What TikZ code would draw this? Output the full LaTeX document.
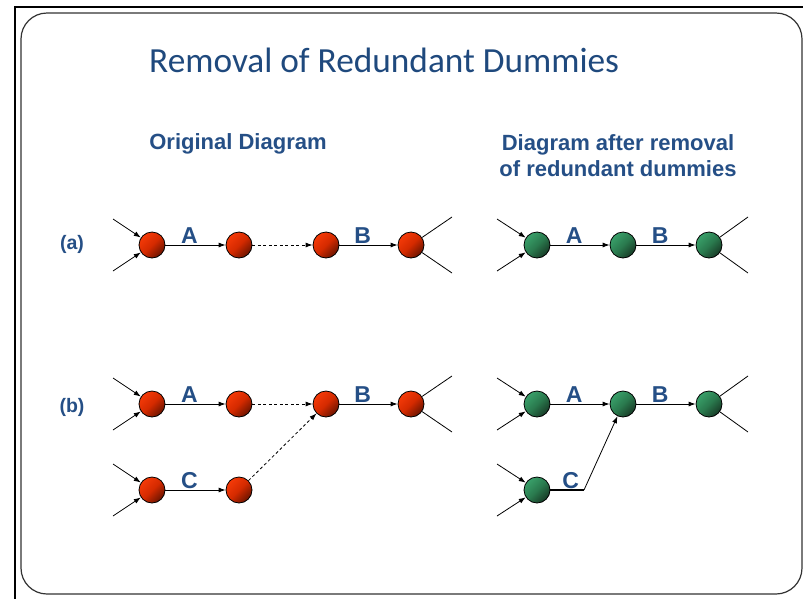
\documentclass[tikz,border=0pt]{standalone}
\usepackage{fontspec}
\setmainfont{Liberation Sans}
\newfontfamily\titlefont{Carlito}
\usetikzlibrary{arrows.meta}
\definecolor{tblue}{HTML}{1F497D}
\definecolor{hblue}{HTML}{254F86}
\definecolor{rlight}{HTML}{F53A08}
\definecolor{rmid}{HTML}{D42A00}
\definecolor{rdark}{HTML}{6A1400}
\definecolor{glight}{HTML}{39A06A}
\definecolor{gmid}{HTML}{2A7A4E}
\definecolor{gdark}{HTML}{173A26}
\begin{document}
\begin{tikzpicture}[x=1pt,y=-1pt,
  ev/.style={circle,draw=black,line width=0.8pt,minimum size=26pt,inner sep=0pt},
  redev/.style={ev,top color=rlight,bottom color=rdark,middle color=rmid,shading angle=45},
  greenev/.style={ev,top color=glight,bottom color=gdark,middle color=gmid,shading angle=45},
  act/.style={-{Latex[length=7pt,width=5pt]},line width=0.8pt},
  dum/.style={act,dashed,dash pattern=on 3pt off 2.5pt},
  free/.style={line width=0.8pt},
  lbl/.style={font=\bfseries\fontsize{23}{26}\selectfont,text=hblue,inner sep=1pt,above=0pt,pos=0.4},
  side/.style={font=\bfseries\fontsize{19.5}{22}\selectfont,text=hblue},
  head/.style={font=\bfseries\fontsize{22}{26}\selectfont,text=hblue,align=center}]
\useasboundingbox (0,0) rectangle (803,598);
\draw[line width=2.6pt] (15,7) rectangle (815,610);
\draw[line width=1.2pt,draw=black!80,rounded corners=26pt] (21,13) rectangle (802,594);
\node[font=\titlefont\fontsize{35.3}{40}\selectfont,text=tblue,anchor=base west,inner sep=0pt] (title) at (149,72) {Removal of Redundant Dummies};
\node[head] (h1) at (238,144) {Original Diagram};
\node[head] (h2) at (618,156) {Diagram after removal\\of redundant dummies};
\node[side] (la) at (72,244) {(a)};
\node[side] (lb) at (72,407) {(b)};
% row (a) red
\node[redev] (a1) at (152,245) {};
\node[redev] (a2) at (239,245) {};
\node[redev] (a3) at (326,245) {};
\node[redev] (a4) at (411,245) {};
\coordinate (ai1) at (113,219); \coordinate (ai2) at (113,271);
\coordinate (ao1) at (452,217); \coordinate (ao2) at (452,273);
\draw[act] (ai1) -- (a1); \draw[act] (ai2) -- (a1);
\draw[act] (a1) -- node[lbl] {A} (a2);
\draw[dum] (a2) -- (a3);
\draw[act] (a3) -- node[lbl] {B} (a4);
\draw[free] (a4) -- (ao1); \draw[free] (a4) -- (ao2);
% row (a) green
\node[greenev] (g1) at (537,245) {};
\node[greenev] (g2) at (623,245) {};
\node[greenev] (g3) at (709,245) {};
\coordinate (gi1) at (497,219); \coordinate (gi2) at (497,271);
\coordinate (go1) at (748,217); \coordinate (go2) at (748,273);
\draw[act] (gi1) -- (g1); \draw[act] (gi2) -- (g1);
\draw[act] (g1) -- node[lbl] {A} (g2);
\draw[act] (g2) -- node[lbl] {B} (g3);
\draw[free] (g3) -- (go1); \draw[free] (g3) -- (go2);
% row (b) red
\node[redev] (b1) at (152,404) {};
\node[redev] (b2) at (239,404) {};
\node[redev] (b3) at (326,404) {};
\node[redev] (b4) at (411,404) {};
\node[redev] (c1) at (152,490) {};
\node[redev] (c2) at (239,490) {};
\coordinate (bi1) at (113,378); \coordinate (bi2) at (113,430);
\coordinate (bo1) at (452,376); \coordinate (bo2) at (452,432);
\coordinate (ci1) at (113,464); \coordinate (ci2) at (113,516);
\draw[act] (bi1) -- (b1); \draw[act] (bi2) -- (b1);
\draw[act] (ci1) -- (c1); \draw[act] (ci2) -- (c1);
\draw[act] (b1) -- node[lbl] {A} (b2);
\draw[dum] (b2) -- (b3);
\draw[act] (b3) -- node[lbl] {B} (b4);
\draw[free] (b4) -- (bo1); \draw[free] (b4) -- (bo2);
\draw[act] (c1) -- node[lbl] {C} (c2);
\draw[dum] (c2) -- (b3);
% row (b) green
\node[greenev] (e1) at (537,404) {};
\node[greenev] (e2) at (623,404) {};
\node[greenev] (e3) at (709,404) {};
\node[greenev] (f1) at (537,490) {};
\coordinate (ei1) at (497,378); \coordinate (ei2) at (497,430);
\coordinate (eo1) at (748,376); \coordinate (eo2) at (748,432);
\coordinate (fi1) at (497,464); \coordinate (fi2) at (497,516);
\coordinate (fk) at (584,490);
\draw[act] (ei1) -- (e1); \draw[act] (ei2) -- (e1);
\draw[act] (fi1) -- (f1); \draw[act] (fi2) -- (f1);
\draw[act] (e1) -- node[lbl] {A} (e2);
\draw[act] (e2) -- node[lbl] {B} (e3);
\draw[free] (e3) -- (eo1); \draw[free] (e3) -- (eo2);
\draw[line width=1.3pt] (f1) -- node[lbl,pos=0.6] {C} (fk);
\draw[act] (fk) -- (e2);
\end{tikzpicture}
\end{document}
